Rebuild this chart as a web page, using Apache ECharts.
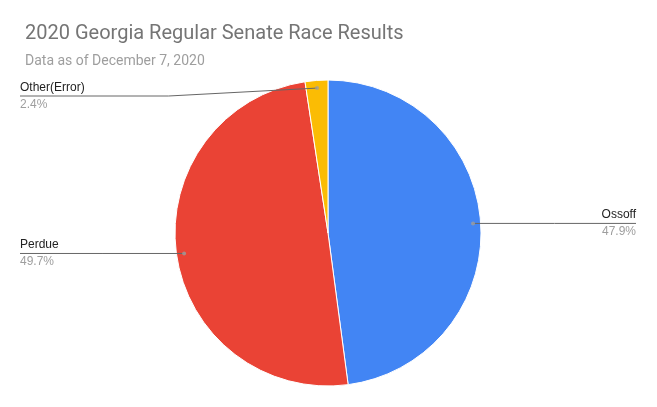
<!DOCTYPE html>
<html>
<head>
<meta charset="utf-8">
<script src="https://cdn.jsdelivr.net/npm/echarts@6/dist/echarts.min.js"></script>
<style>html,body{margin:0;padding:0;background:#fff}#c{width:657px;height:407px}</style>
</head>
<body>
<div id="c"></div>
<script>
const categories = ['Ossoff', 'Perdue', 'Other(Error)'];
const values = [47.9, 49.7, 2.4];
const colors = ['#4285f4', '#ea4335', '#fbbc04'];
const titleText = '2020 Georgia Regular Senate Race Results';
const subtitleText = 'Data as of December 7, 2020';

const W = 657, H = 407;
const CX = 328, CY = 233, R = 153;
const DOT = 0.95;
const total = values.reduce((a, b) => a + b, 0);
const mids = [];
let acc = 0;
values.forEach(v => { mids.push(acc + v / 2); acc += v; });

function dotPoint(i) {
  const a = mids[i] / total * 2 * Math.PI;
  return [CX + DOT * R * Math.sin(a), CY - DOT * R * Math.cos(a)];
}

const pieBase = {
  type: 'pie',
  center: [CX, CY],
  radius: R,
  startAngle: 90,
  clockwise: true,
  avoidLabelOverlap: false,
  percentPrecision: 1,
  emphasis: {disabled: true},
  silent: true
};

const chart = echarts.init(document.getElementById('c'), null, {renderer: 'canvas'});
chart.setOption({
  animation: false,
  backgroundColor: '#fff',
  title: {
    text: titleText,
    subtext: subtitleText,
    left: 20,
    top: 19,
    itemGap: 10,
    textStyle: {fontFamily: 'Roboto', fontSize: 20, fontWeight: 'normal', color: '#757575'},
    subtextStyle: {fontFamily: 'Roboto', fontSize: 14, color: '#9e9e9e'}
  },
  polar: {center: [CX, CY], radius: R},
  angleAxis: {type: 'value', min: 0, max: total, startAngle: 90, clockwise: true, show: false},
  radiusAxis: {type: 'value', min: 0, max: 1, show: false},
  series: [Object.assign({}, pieBase, {
    z: 2,
    data: categories.map((n, i) => ({name: n, value: values[i], itemStyle: {color: colors[i]}})),
    itemStyle: {borderColor: '#fff', borderWidth: 1},
    label: {show: false},
    labelLine: {show: false}
  }), Object.assign({}, pieBase, {
    z: 4,
    data: categories.map((n, i) => ({name: n, value: values[i]})),
    itemStyle: {color: 'rgba(0,0,0,0)', borderWidth: 0},
    label: {
      show: true,
      position: 'outside',
      formatter: '{n|{b}}\n{p|{d}%}',
      rich: {
        n: {fontFamily: 'Liberation Sans, Arial', fontSize: 12, color: '#222', lineHeight: 17},
        p: {fontFamily: 'Liberation Sans, Arial', fontSize: 12, color: '#9e9e9e', lineHeight: 17}
      }
    },
    labelLine: {show: true, length: 10, length2: 10, lineStyle: {color: '#666', width: 1}},
    labelLayout: function (params) {
      const i = params.dataIndex;
      const d = dotPoint(i);
      const right = d[0] > CX;
      const y = Math.max(d[1], 96);
      const endX = right ? W - 21 : 20;
      const elbowX = (d[0] + endX) / 2;
      return {
        x: endX,
        y: y,
        align: right ? 'right' : 'left',
        verticalAlign: 'middle',
        labelLinePoints: [d, [elbowX, y], [endX, y]]
      };
    }
  }), {
    type: 'scatter',
    coordinateSystem: 'polar',
    symbolSize: 4,
    itemStyle: {color: '#9e9e9e'},
    silent: true,
    z: 6,
    data: mids.map(m => [DOT, m])
  }]
});
</script>
</body>
</html>
